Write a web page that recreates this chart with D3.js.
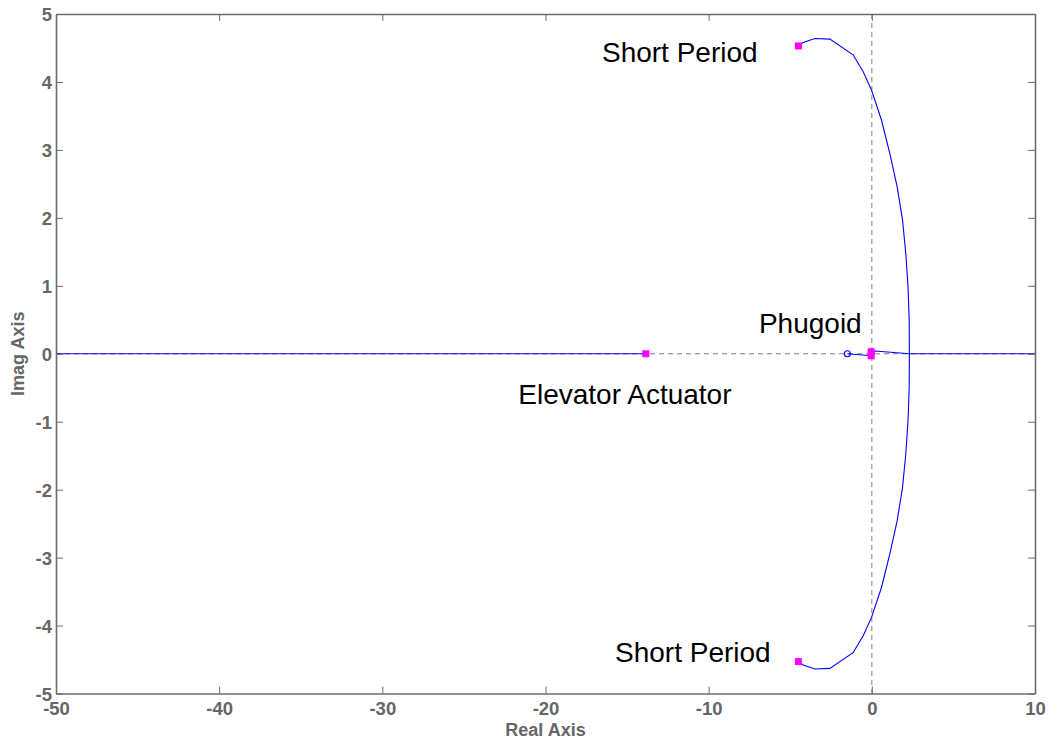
<!DOCTYPE html>
<html>
<head>
<meta charset="utf-8">
<script src="https://cdn.jsdelivr.net/npm/d3@7"></script>
<style>
  html, body { margin: 0; padding: 0; background: #fff; }
  svg { display: block; font-family: "Liberation Sans", Arial, sans-serif; }
</style>
</head>
<body>
<svg id="chart" width="1049" height="742"></svg>
<script>
// Root locus of the pitch loop: poles, zeros and branch paths [real, imag]
const xTicks = [-50, -40, -30, -20, -10, 0, 10];
const yTicks = [-5, -4, -3, -2, -1, 0, 1, 2, 3, 4, 5];

const poles = [
  [-4.5, 4.53], [-4.5, -4.53],      // short period
  [-0.04, 0.03], [-0.04, -0.03],    // phugoid
  [-13.85, 0]                       // elevator actuator
];
const zeros = [[-1.5, 0]];

// Short-period branch, upper half (lower half is its mirror)
const shortPeriodUpper = [
  [-4.5, 4.53], [-4.21, 4.58], [-3.49, 4.64], [-2.57, 4.63], [-1.15, 4.40],
  [-0.53, 4.15], [-0.02, 3.88], [0.59, 3.44], [1.10, 2.95], [1.55, 2.46],
  [1.88, 1.97], [2.08, 1.48], [2.22, 0.98], [2.29, 0.49], [2.30, 0]
];
const shortPeriodLower = shortPeriodUpper.map(p => [p[0], -p[1]]);
const phugoidBranch = [[-0.04, 0.03], [0.2, 0.04], [2.30, 0]];
const phugoidToZero = [[-0.04, -0.03], [-1.5, 0]];
const realAxisRight = [[2.30, 0], [10, 0]];
const actuatorBranch = [[-13.85, 0], [-50, 0]];

const labels = [
  { text: "Short Period", at: [-7.0, 4.30] },
  { text: "Short Period", at: [-6.2, -4.54] },
  { text: "Phugoid", at: [-0.62, 0.30] },
  { text: "Elevator Actuator", at: [-8.6, -0.74] }
];

const svg = d3.select("#chart");
const W = 1049, H = 742;
const m = { left: 56, top: 14, right: W - 1035, bottom: H - 693.5 };

const x = d3.scaleLinear().domain([-50, 10]).range([m.left, W - m.right]);
const y = d3.scaleLinear().domain([-5, 5]).range([H - m.bottom, m.top]);

const axisColor = "#6b6b6b";
const plain = d => String(d);

// Zero reference lines
svg.append("line")
  .attr("x1", x(-50)).attr("x2", x(10)).attr("y1", y(0)).attr("y2", y(0))
  .attr("stroke", "#808080").attr("stroke-width", 1).attr("stroke-dasharray", "5,4");
svg.append("line")
  .attr("x1", x(0)).attr("x2", x(0)).attr("y1", y(5)).attr("y2", y(-5))
  .attr("stroke", "#808080").attr("stroke-width", 1).attr("stroke-dasharray", "5,4");

// Locus branches
const line = d3.line().x(d => x(d[0])).y(d => y(d[1]));
const branches = [shortPeriodUpper, shortPeriodLower, phugoidBranch, phugoidToZero, realAxisRight, actuatorBranch];
svg.append("g").selectAll("path").data(branches).join("path")
  .attr("d", line)
  .attr("fill", "none")
  .attr("stroke", "#0000ff")
  .attr("stroke-width", 1.1);

// Axes with inward ticks on all four sides
const tickLen = 7;
const gx = svg.append("g").attr("transform", `translate(0,${y(-5)})`)
  .call(d3.axisBottom(x).tickValues(xTicks).tickFormat(plain).tickSizeInner(-tickLen).tickSizeOuter(0).tickPadding(8));
const gxTop = svg.append("g").attr("transform", `translate(0,${y(5)})`)
  .call(d3.axisTop(x).tickValues(xTicks).tickSizeInner(-tickLen).tickSizeOuter(0).tickFormat(""));
const gy = svg.append("g").attr("transform", `translate(${x(-50)},0)`)
  .call(d3.axisLeft(y).tickValues(yTicks).tickFormat(plain).tickSizeInner(-tickLen).tickSizeOuter(0).tickPadding(4));
const gyRight = svg.append("g").attr("transform", `translate(${x(10)},0)`)
  .call(d3.axisRight(y).tickValues(yTicks).tickSizeInner(-tickLen).tickSizeOuter(0).tickFormat(""));

[gx, gxTop, gy, gyRight].forEach(g => {
  g.select(".domain").attr("stroke", axisColor).attr("stroke-width", 1.6);
  g.selectAll(".tick line").attr("stroke", axisColor).attr("stroke-width", 1);
  g.selectAll(".tick text")
    .attr("fill", "#666666")
    .attr("font-size", 18.5)
    .attr("font-weight", "bold")
    .attr("font-family", "'Liberation Sans', Arial, sans-serif");
});
gy.selectAll(".tick text").attr("dy", "0.36em");

// Axis titles
svg.append("text")
  .attr("x", x(-20)).attr("y", 736)
  .attr("text-anchor", "middle")
  .attr("fill", "#666666").attr("font-size", 18).attr("font-weight", "bold")
  .text("Real Axis");
svg.append("text")
  .attr("transform", `translate(24,${y(0)}) rotate(-90)`)
  .attr("text-anchor", "middle")
  .attr("fill", "#666666").attr("font-size", 18).attr("font-weight", "bold")
  .text("Imag Axis");

// Pole markers (squares) and zero markers (circles)
const sq = 7;
svg.append("g").selectAll("rect").data(poles).join("rect")
  .attr("x", d => x(d[0]) - sq / 2).attr("y", d => y(d[1]) - sq / 2)
  .attr("width", sq).attr("height", sq)
  .attr("fill", "#ff00ff");
svg.append("g").selectAll("circle").data(zeros).join("circle")
  .attr("cx", d => x(d[0])).attr("cy", d => y(d[1])).attr("r", 3)
  .attr("fill", "none").attr("stroke", "#0000ff").attr("stroke-width", 1.2);

// Mode annotations
svg.append("g").selectAll("text").data(labels).join("text")
  .attr("x", d => x(d.at[0])).attr("y", d => y(d.at[1]))
  .attr("text-anchor", "end")
  .attr("font-size", 28)
  .attr("fill", "#000")
  .text(d => d.text);
</script>
</body>
</html>
